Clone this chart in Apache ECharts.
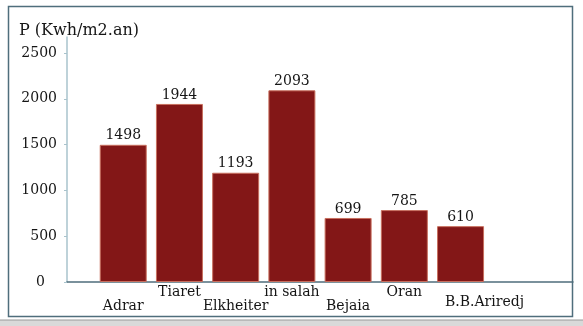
<!DOCTYPE html>
<html><head><meta charset="utf-8">
<script src="https://cdn.jsdelivr.net/npm/echarts@6/dist/echarts.min.js"></script>
<style>html,body{margin:0;padding:0;background:#fff}#c{width:583px;height:326px}</style>
</head><body><div id="c"></div>
<script>
const categories = ['', 'Adrar', 'Tiaret', 'Elkheiter', 'in salah', 'Bejaia', 'Oran', 'B.B.Ariredj', '', ''];
const values = [null, 1498, 1944, 1193, 2093, 699, 785, 610, null, null];
const labelRow = ['', 'l', 'u', 'l', 'u', 'l', 'u', 'b', '', ''];
const yTicks = [0, 500, 1000, 1500, 2000, 2500];
const yTitle = 'P (Kwh/m2.an)';

const FONT = 'DejaVu Serif';
const TXT = '#151515';
const chart = echarts.init(document.getElementById('c'));
chart.setOption({
  animation: false,
  title: { text: yTitle, left: 14, top: 18, textStyle: { fontFamily: FONT, fontSize: 16, fontWeight: 'normal', color: TXT } },
  graphic: [
    { type: 'rect', shape: { x: 8.5, y: 6.5, width: 564, height: 310 }, style: { fill: 'none', stroke: '#4f6e7c', lineWidth: 1.5 }, z: -1 },
    { type: 'rect', shape: { x: 0, y: 320, width: 583, height: 6 }, style: { fill: '#d9d9d9' }, z: -1 },
    { type: 'line', shape: { x1: 0, y1: 320, x2: 583, y2: 320 }, style: { stroke: '#9a9a9a', lineWidth: 1 } }
  ],
  grid: { left: 67, right: 10, top: 37, bottom: 44 },
  xAxis: {
    type: 'category', data: categories, boundaryGap: false,
    axisLine: { lineStyle: { color: '#4f6e7c', width: 1.5 } },
    axisTick: { show: false },
    axisLabel: {
      interval: 0, margin: 3, color: TXT, fontFamily: FONT, fontSize: 14,
      formatter: (v, i) => labelRow[i] ? '{' + labelRow[i] + '|' + v + '}' : '',
      rich: {
        u: { fontFamily: FONT, fontSize: 14, color: TXT, padding: [0, 0, 0, 0] },
        l: { fontFamily: FONT, fontSize: 14, color: TXT, padding: [14, 0, 0, 0] },
        b: { fontFamily: FONT, fontSize: 14, color: TXT, padding: [10, 0, 0, 48] }
      }
    }
  },
  yAxis: {
    type: 'value', min: 0, max: 2675, interval: 500,
    axisLine: { show: true, lineStyle: { color: '#a9c3cc', width: 1.5 } },
    axisTick: { show: true, length: 3, inside: false, lineStyle: { color: '#a9c3cc' }, customValues: yTicks },
    splitLine: { show: false },
    axisLabel: {
      margin: 10, color: TXT, fontFamily: FONT, fontSize: 14, customValues: yTicks,
      formatter: v => v === 0 ? '{z|0}' : String(v),
      rich: { z: { fontFamily: FONT, fontSize: 14, color: TXT, padding: [0, 12, 0, 0] } }
    }
  },
  series: [{
    type: 'bar', data: values, barWidth: 47,
    itemStyle: { color: '#831717', borderColor: '#c8705f', borderWidth: 1 },
    label: { show: true, position: 'top', distance: 2, color: TXT, fontFamily: FONT, fontSize: 14 }
  }]
});
</script></body></html>
